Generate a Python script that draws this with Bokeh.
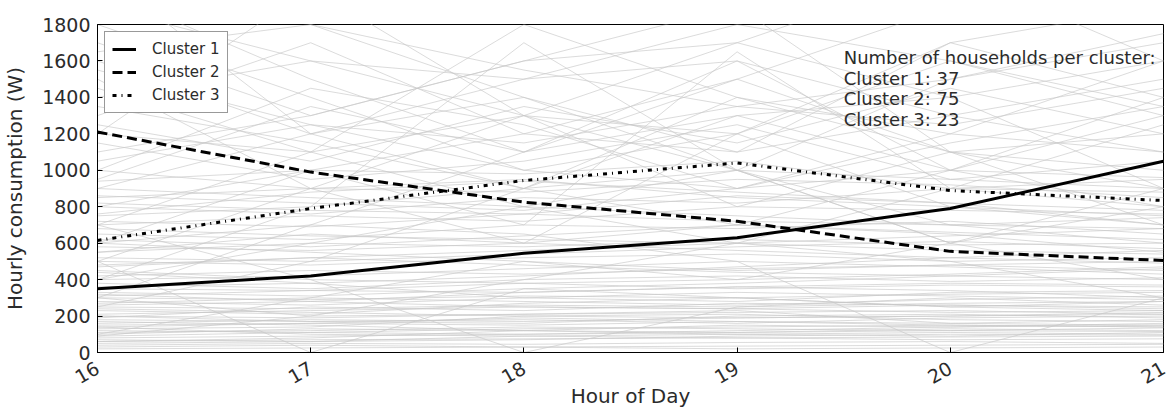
from bokeh.plotting import figure
from bokeh.models import FixedTicker, Legend, LegendItem, Label
from bokeh.embed import file_html
from bokeh.resources import INLINE

hours = [16, 17, 18, 19, 20, 21]

cluster1 = [350, 420, 545, 630, 790, 1050]
cluster2 = [1210, 990, 825, 720, 555, 505]
cluster3 = [615, 790, 944, 1040, 889, 834]

cluster_names = ["Cluster 1", "Cluster 2", "Cluster 3"]
cluster_sizes = [37, 75, 23]

households = [
    [80, 90, 100, 110, 120, 115],
    [60, 70, 75, 80, 85, 90],
    [120, 110, 130, 140, 150, 140],
    [150, 160, 150, 170, 160, 180],
    [200, 190, 210, 220, 230, 210],
    [100, 130, 120, 150, 140, 160],
    [40, 50, 45, 55, 60, 50],
    [180, 170, 160, 200, 210, 190],
    [250, 240, 260, 250, 270, 280],
    [300, 290, 310, 300, 320, 330],
    [500, 0, 350, 300, 250, 280],
    [700, 400, 0, 250, 300, 260],
    [600, 700, 650, 500, 0, 300],
    [350, 340, 330, 360, 380, 370],
    [270, 300, 280, 260, 290, 310],
    [130, 140, 200, 210, 180, 170],
    [90, 200, 210, 230, 160, 150],
    [170, 150, 120, 110, 130, 120],
    [320, 280, 250, 240, 260, 250],
    [380, 350, 400, 420, 390, 410],
    [420, 450, 430, 460, 480, 450],
    [450, 400, 380, 350, 370, 360],
    [500, 480, 520, 540, 500, 520],
    [550, 600, 580, 620, 590, 600],
    [30, 40, 30, 35, 40, 45],
    [20, 25, 30, 20, 25, 30],
    [140, 100, 90, 100, 110, 100],
    [240, 220, 200, 190, 200, 210],
    [60, 80, 120, 100, 90, 110],
    [190, 250, 230, 270, 260, 240],
    [110, 120, 140, 130, 120, 135],
    [210, 230, 250, 240, 220, 230],
    [280, 260, 300, 330, 310, 290],
    [70, 60, 90, 80, 70, 75],
    [160, 180, 170, 190, 200, 220],
    [360, 380, 300, 280, 330, 340],
    [230, 210, 270, 300, 250, 230],
    [330, 310, 350, 380, 420, 400],
    [400, 420, 460, 500, 470, 430],
    [470, 520, 480, 440, 420, 460],
    [520, 500, 540, 580, 610, 570],
    [580, 560, 600, 560, 520, 490],
    [260, 280, 330, 360, 340, 300],
    [310, 340, 380, 400, 430, 470],
    [50, 60, 70, 90, 100, 95],
    [90, 110, 100, 120, 140, 150],
    [140, 160, 190, 170, 150, 140],
    [200, 170, 180, 160, 190, 200],
    [440, 380, 420, 470, 520, 560],
    [620, 580, 640, 700, 660, 620],
    [650, 620, 700, 680, 720, 650],
    [700, 750, 720, 800, 780, 760],
    [800, 760, 850, 820, 900, 880],
    [850, 900, 880, 950, 920, 850],
    [600, 550, 500, 450, 480, 500],
    [900, 850, 800, 750, 700, 680],
    [750, 800, 900, 1000, 950, 900],
    [400, 600, 800, 1000, 700, 600],
    [1000, 900, 950, 850, 800, 750],
    [550, 650, 600, 700, 650, 550],
    [680, 640, 620, 600, 560, 540],
    [480, 520, 560, 600, 640, 680],
    [820, 780, 760, 720, 700, 740],
    [940, 1000, 980, 1050, 900, 950],
    [720, 690, 760, 860, 820, 780],
    [860, 820, 780, 900, 1000, 960],
    [760, 880, 940, 880, 820, 700],
    [1500, 900, 600, 1200, 800, 700],
    [1800, 1400, 1000, 900, 1200, 1100],
    [1100, 1300, 1600, 1700, 1400, 900],
    [1300, 1700, 1200, 1500, 1100, 1000],
    [1600, 1200, 1400, 1100, 1300, 1500],
    [2000, 1500, 1100, 1300, 1000, 800],
    [1200, 1100, 1300, 1000, 1500, 1700],
    [900, 1200, 1500, 1800, 1600, 1300],
    [700, 1100, 1800, 1400, 1200, 1600],
    [1400, 1600, 1300, 1200, 1700, 1400],
    [1700, 1300, 1600, 1900, 1100, 1200],
    [1050, 1250, 1150, 1350, 1250, 1450],
    [1250, 1050, 1350, 1150, 1450, 1200],
    [500, 900, 1300, 1700, 2100, 1600],
    [2200, 1800, 1400, 1000, 600, 400],
    [300, 700, 1100, 1500, 1900, 2000],
    [800, 1000, 1200, 1100, 1700, 1900],
    [1900, 1600, 1500, 1600, 1300, 1100],
    [1150, 950, 1050, 1250, 950, 1050],
    [950, 1350, 1100, 1600, 1000, 1300],
    [1350, 1150, 900, 1300, 1400, 1600],
    [400, 800, 1700, 1000, 600, 900],
    [600, 1000, 700, 1650, 900, 800],
    [1000, 1450, 1250, 900, 1150, 1350],
    [1550, 1250, 1000, 1200, 1600, 1350],
    [250, 500, 900, 1400, 1100, 700],
    [1450, 1100, 800, 600, 900, 1250],
    [1650, 1800, 1550, 1350, 1500, 1750],
    [2100, 1200, 900, 700, 1000, 1400],
    [1200, 2000, 1300, 800, 1100, 900],
    [100, 300, 500, 400, 600, 800],
    [300, 200, 400, 600, 500, 300],
]

x_ticks = [16, 17, 18, 19, 20, 21]
y_ticks = [0, 200, 400, 600, 800, 1000, 1200, 1400, 1600, 1800]

FONT = "DejaVu Sans"
TXT = "#2b2b2b"

p = figure(width=1173, height=412, output_backend="svg", toolbar_location=None,
           x_range=(16, 21), y_range=(0, 1800),
           min_border_left=96, min_border_right=10, min_border_top=24, min_border_bottom=60)

p.grid.visible = False
p.outline_line_color = "black"
p.outline_line_width = 1
p.background_fill_color = "white"
p.border_fill_color = "white"

for hh in households:
    p.line(hours, hh, line_color="#c8c8c8", line_alpha=0.65, line_width=1)

r1 = p.line(hours, cluster1, line_color="black", line_width=3)
r2 = p.line(hours, cluster2, line_color="black", line_width=3, line_dash="10 5")
r3 = p.line(hours, cluster3, line_color="black", line_width=3, line_dash="4 5 1 5")

legend = Legend(items=[LegendItem(label=cluster_names[0], renderers=[r1]),
                       LegendItem(label=cluster_names[1], renderers=[r2]),
                       LegendItem(label=cluster_names[2], renderers=[r3])],
                location="top_left")
legend.label_text_font = FONT
legend.label_text_font_size = "15px"
legend.label_text_color = TXT
legend.border_line_color = "#333333"
legend.border_line_width = 1
legend.glyph_width = 24
legend.glyph_height = 20
legend.label_height = 20
legend.spacing = 3
legend.padding = 7
legend.margin = 7
legend.label_standoff = 16
legend.background_fill_alpha = 1
p.add_layout(legend)

p.xaxis.ticker = FixedTicker(ticks=x_ticks)
p.yaxis.ticker = FixedTicker(ticks=y_ticks)
p.xaxis.major_label_orientation = 0.52
for ax in (p.xaxis, p.yaxis):
    ax.major_tick_in = 5
    ax.major_tick_out = 0
    ax.minor_tick_line_color = None
    ax.axis_line_color = "black"
    ax.major_tick_line_color = "black"
    ax.major_label_text_font = FONT
    ax.major_label_text_font_size = "19px"
    ax.major_label_text_color = TXT
    ax.axis_label_text_font = FONT
    ax.axis_label_text_font_size = "20px"
    ax.axis_label_text_font_style = "normal"
    ax.axis_label_text_color = TXT
p.xaxis.axis_label = "Hour of Day"
p.yaxis.axis_label = "Hourly consumption (W)"
p.xaxis.major_label_standoff = 14
p.yaxis.major_label_standoff = 7
p.xaxis.axis_label_standoff = -10
p.yaxis.axis_label_standoff = 12

ann_lines = ["Number of households per cluster:"] + [
    f"{n}: {s}" for n, s in zip(cluster_names, cluster_sizes)]
ann_y = [1677, 1563, 1450, 1336]
for t, yv in zip(ann_lines, ann_y):
    p.add_layout(Label(x=19.5, y=yv, text=t, text_font=FONT, text_font_size="18px",
                       text_color=TXT, text_baseline="top", text_align="left"))

open("out.html", "w").write(file_html(p, INLINE))
